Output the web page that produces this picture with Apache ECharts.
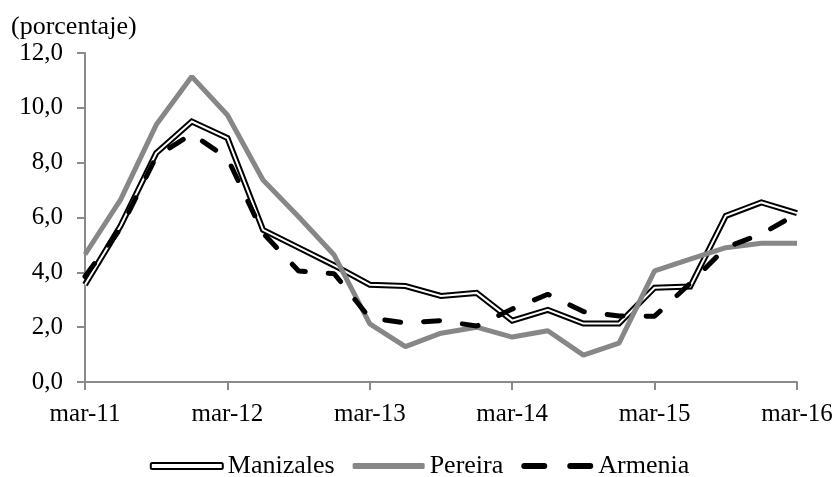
<!DOCTYPE html>
<html>
<head>
<meta charset="utf-8">
<script src="https://cdn.jsdelivr.net/npm/echarts@6/dist/echarts.min.js"></script>
<style>
html,body{margin:0;padding:0;background:#fff;}
#c{width:839px;height:477px;}
</style>
</head>
<body>
<div id="c"></div>
<script>
const categories = ['mar-11','jun-11','sep-11','dic-11','mar-12','jun-12','sep-12','dic-12','mar-13','jun-13','sep-13','dic-13','mar-14','jun-14','sep-14','dic-14','mar-15','jun-15','sep-15','dic-15','mar-16'];
const manizales = [3.55, 5.7, 8.35, 9.5, 8.9, 5.55, 4.9, 4.25, 3.55, 3.5, 3.14, 3.25, 2.24, 2.63, 2.13, 2.13, 3.44, 3.48, 6.06, 6.55, 6.16];
const pereira   = [4.65, 6.65, 9.38, 11.14, 9.74, 7.37, 6.03, 4.63, 2.12, 1.29, 1.78, 2.0, 1.64, 1.87, 0.98, 1.42, 4.05, 4.48, 4.9, 5.06, 5.06];
const armenia   = [3.85, 5.6, 8.22, 9.05, 8.17, 5.43, 4.05, 3.95, 2.33, 2.16, 2.24, 2.04, 2.66, 3.2, 2.57, 2.41, 2.4, 3.6, 4.9, 5.4, 6.13];
const yTicks = [0, 2, 4, 6, 8, 10, 12];

const FONT = '"Liberation Serif", "Times New Roman", serif';
const chart = echarts.init(document.getElementById('c'), null, {renderer: 'canvas'});
chart.setOption({
  animation: false,
  backgroundColor: '#fff',
  title: {
    text: '(porcentaje)',
    left: 6, top: 9,
    textStyle: {fontFamily: FONT, fontSize: 26, fontWeight: 'normal', color: '#000'}
  },
  legend: {
    bottom: -7,
    left: 'center',
    itemWidth: 72,
    itemHeight: 6,
    itemGap: 18,
    symbolKeepAspect: false,
    textStyle: {fontFamily: FONT, fontSize: 26, color: '#000'},
    data: [
      {name: 'Manizales', icon: 'roundRect', itemStyle: {color: '#fff', borderColor: '#000', borderWidth: 2}},
      {name: 'Pereira', icon: 'roundRect', itemStyle: {color: '#878787', borderWidth: 0}},
      {name: 'Armenia', icon: 'path://M3,0 h20 a3,3 0 0 1 0,6 h-20 a3,3 0 0 1 0,-6 z M49,0 h20 a3,3 0 0 1 0,6 h-20 a3,3 0 0 1 0,-6 z', itemStyle: {color: '#000', borderWidth: 0}}
    ]
  },
  grid: {left: 85, right: 42, top: 53, bottom: 95, containLabel: false},
  xAxis: {
    type: 'category',
    data: categories,
    boundaryGap: false,
    axisLine: {lineStyle: {color: '#8a8a8a', width: 2}},
    axisTick: {show: true, interval: 3, length: 8, lineStyle: {color: '#8a8a8a', width: 2}},
    axisLabel: {interval: 3, fontFamily: FONT, fontSize: 25, color: '#000', margin: 20},
    splitLine: {show: false}
  },
  yAxis: {
    type: 'value',
    min: 0, max: 12, interval: 2,
    axisLine: {show: true, lineStyle: {color: '#8a8a8a', width: 2}},
    axisTick: {show: true, length: 8, lineStyle: {color: '#8a8a8a', width: 2}},
    axisLabel: {fontFamily: FONT, fontSize: 25, color: '#000', margin: 22,
      formatter: v => v.toFixed(1).replace('.', ',')},
    splitLine: {show: false}
  },
  series: [
    {name: 'Manizales', type: 'line', data: manizales, symbol: 'none', z: 2,
      lineStyle: {color: '#000', width: 6, join: 'miter'}, itemStyle: {color: '#000'}},
    {name: 'Manizales_in', type: 'line', data: manizales, symbol: 'none', z: 3,
      lineStyle: {color: '#fff', width: 2, join: 'miter'}, itemStyle: {color: '#fff'}},
    {name: 'Pereira', type: 'line', data: pereira, symbol: 'none', z: 4,
      lineStyle: {color: '#878787', width: 5}, itemStyle: {color: '#878787'}},
    {name: 'Armenia', type: 'line', data: armenia, symbol: 'none', z: 5,
      lineStyle: {color: '#000', width: 5, type: [16, 23], cap: 'round'}, itemStyle: {color: '#000'}}
  ]
});
</script>
</body>
</html>
